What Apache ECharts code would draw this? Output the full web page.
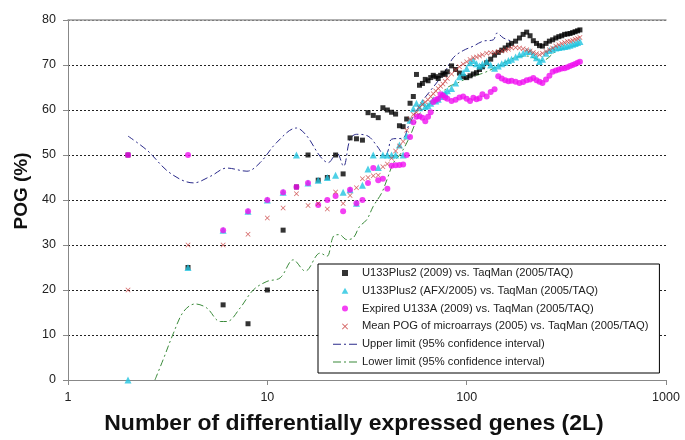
<!DOCTYPE html>
<html>
<head>
<meta charset="utf-8">
<script src="https://cdn.jsdelivr.net/npm/echarts@6/dist/echarts.min.js"></script>
<style>html,body{margin:0;padding:0;background:#fff;}#c{width:685px;height:440px;}</style>
</head>
<body>
<div id="c"></div>
<script>
// x values (number of differentially expressed genes, 2L)
const genes = [2,4,6,8,10,12,14,16,18,20,
  22,24,26,28,30,32,34,36,38,40,
  42,44,46,48,50,52,54,56,58,60,
  62,64,66,68,70,72,74,76,78,80,
  84,88,92,96,100,104,108,112,116,120,
  126,132,138,144,150,156,162,168,176,184,
  192,200,208,216,224,232,240,250,260,270,
  280,290,300,310,320,330,340,350,360,370];

const plus2009 = [50,25,16.7,12.5,20,33.3,42.9,50,44.4,45,
  50,45.8,53.8,53.6,53.3,59.4,58.8,58.3,60.5,60,
  59.5,59.1,56.5,56.3,58,61.5,63,67.9,65.5,65.9,
  66.8,66.5,67.2,67.7,67.4,67,67.7,68.2,67.9,68.5,
  69.8,69,68.2,67.4,67.2,67.6,68,68.3,69,69.6,
  70.5,71.3,72.2,72.8,73.3,73.8,74.4,74.8,75.3,76,
  76.8,77.3,76.5,75.4,74.8,74.3,74.2,74.8,75.3,75.6,
  76,76.3,76.5,76.8,76.9,77,77.2,77.4,77.6,77.8];

const afx2005 = [0,25,33.3,37.5,40,41.7,50,43.8,44.4,45,
  45.5,41.7,42.3,39.3,43.3,46.9,50,47.2,50,50,
  50,50,52.2,50,54.2,57.7,60.3,61.5,60.5,61.7,
  60.8,61,61.5,62.3,62,62.4,63,63.5,63.8,64.3,
  64.8,66,67.4,68.3,69.2,70.5,71,70.3,69.8,70.2,
  70.8,70,69.3,69.8,70.3,70.6,71,71.3,71.8,72.3,
  72.6,73,73,72.3,71.6,70.8,71.3,72.6,73.2,73.5,
  73.8,73.9,74,74.1,74.2,74.4,74.6,74.8,75,75.2];

const expired2009 = [50,50,33.3,37.5,40,41.7,42.9,43.8,38.9,40,
  40.9,37.5,42.3,39.3,40,43.8,47.1,44.4,44.7,42.5,
  47.6,47.7,47.8,47.9,50,54,57.3,58.5,58.6,58.3,
  57.5,58.5,59.5,61.8,62.3,62.5,63.5,63.2,62.8,62.5,
  62,62.3,62.8,63,62.5,62,62.7,62.4,62.6,63.5,
  63,64,64.6,67.5,67,66.6,66.4,66.5,66.3,66,
  66.2,66.6,66.8,67.1,66.6,66.3,66,66.8,67.6,68.5,
  68.8,69,69.2,69.3,69.5,69.8,70,70.2,70.5,70.7];

const meanPOG = [20,30,30,32.4,36,38.2,41.4,38.8,39.2,38,
  41.8,39.2,41,42.7,44.7,45,45.4,45.5,47.4,48,
  49.3,50.9,52,53,55.5,58,59,59.5,60.5,61.2,
  61.8,62.3,63,63.6,64.2,64.8,65.3,65.8,66.4,67,
  68,68.9,69.6,70.2,70.7,71.2,71.6,71.8,72,72.3,
  72.6,72.7,72.8,73,73.1,73.3,73.5,73.8,73.9,73.8,
  73.6,73.4,73.1,72.8,72.5,72.3,72.6,73,73.4,73.8,
  74.2,74.5,74.8,75,75.2,75.3,75.5,75.7,75.9,76.1];

const upperX = [2,2.5,3.25,4.26,5.2,6.26,7.9,9.2,11.1,14,15.8,18.4,20.2,22.3,24.1,26,28,32,35.5,39,40.5,42,48,51,54,60,65,72,79,86,96,108,121,136,142,153,171];
const upperY = [54.2,51,46,43.8,45.3,47.1,46.4,48.3,52.7,56,54.2,49.7,48.3,50.5,47.5,53.5,54.6,54.2,52,49.7,51.2,53.5,53.8,56.4,58.6,62,64,66.5,69,71.7,73.2,74.2,75.3,75.6,77.1,76,75.2];

const lowerX = [2.73,3.0,3.38,3.8,4.34,4.97,5.8,6.27,7.3,8.5,9.95,11.6,13.5,15.5,18.4,19.9,21.5,23,25,27,29,31.5,34,37.5,39.8,43,47,52,54,57,60,66,73,80,90,100,121,140,171,200,240,285,370];
const lowerY = [0,4.5,10.4,15.2,16.9,16,13,13,16,20,21.9,22.7,26.7,24.2,28.2,27.5,32,32.3,31.2,31.6,34.1,35.6,38.6,41.6,44.5,48.3,50.5,54.2,56,58.5,60,61.5,63,65,66,67,68.2,69.5,71.5,72,71,73.2,74.5];

const names = [
  'U133Plus2 (2009) vs. TaqMan (2005/TAQ)',
  'U133Plus2 (AFX/2005) vs. TaqMan (2005/TAQ)',
  'Expired U133A (2009) vs. TaqMan (2005/TAQ)',
  'Mean POG of microarrays (2005) vs. TaqMan (2005/TAQ)',
  'Upper limit (95% confidence interval)',
  'Lower limit (95% confidence interval)'
];
const yTitle = 'POG (%)';
const xTitle = 'Number of differentially expressed genes (2L)';

const FONT = '"Liberation Sans", Arial, sans-serif';
const pairs = (xs, ys) => xs.map((x, i) => [x, ys[i]]).filter(p => p[1] != null);
const crossPath = 'path://M0,1 L1,0 L5,4 L9,0 L10,1 L6,5 L10,9 L9,10 L5,6 L1,10 L0,9 L4,5 Z';
const squarePath = 'path://M0,0 H10 V10 H0 Z';
const triPath = 'path://M5,0 L10,9 L0,9 Z';
const dashDotPath = 'path://M0,0 H8 V1.1 H0 Z M11,0 H13 V1.1 H11 Z M16,0 H24 V1.1 H16 Z';

const chart = echarts.init(document.getElementById('c'), null, {renderer: 'canvas'});
chart.setOption({
  animation: false,
  backgroundColor: '#fff',
  grid: {left: 68, right: 19, top: 20, bottom: 60},
  legend: {
    orient: 'vertical', left: 318, top: 264,
    itemWidth: 24, itemHeight: 6, itemGap: 3.8,
    padding: [2, 11, 4, 15],
    borderColor: '#000', borderWidth: 1, backgroundColor: '#fff',
    textStyle: {fontSize: 11.2, color: '#222', lineHeight: 14, fontFamily: FONT},
    data: [
      {name: names[0], icon: squarePath},
      {name: names[1], icon: triPath},
      {name: names[2], icon: 'circle'},
      {name: names[3], icon: crossPath},
      {name: names[4], icon: dashDotPath},
      {name: names[5], icon: dashDotPath}
    ]
  },
  graphic: [
    {type: 'text', x: 22, y: 191, rotation: Math.PI / 2, z: 10,
      style: {text: yTitle, font: 'bold 19px ' + FONT, fill: '#111', textAlign: 'center', textVerticalAlign: 'middle'}},
    {type: 'text', x: 354, y: 424, scaleX: 1.045, z: 10,
      style: {text: xTitle, font: 'bold 22px ' + FONT, fill: '#111', textAlign: 'center', textVerticalAlign: 'middle'}}
  ],
  xAxis: [{
    type: 'log', logBase: 10, min: 1, max: 1000,
    axisLine: {lineStyle: {color: '#888'}},
    axisTick: {show: true, length: 5, lineStyle: {color: '#888'}},
    minorTick: {show: false},
    axisLabel: {color: '#222', fontSize: 12.5, margin: 11, fontFamily: FONT,
      formatter: v => String(Math.round(v))},
    splitLine: {show: false}
  }, {
    type: 'log', logBase: 10, min: 1, max: 1000, position: 'top',
    axisLine: {show: true, lineStyle: {color: '#999', width: 1.5}},
    axisTick: {show: false}, axisLabel: {show: false}, splitLine: {show: false}
  }],
  yAxis: {
    type: 'value', min: 0, max: 80, interval: 10,
    axisLine: {show: true, lineStyle: {color: '#888'}},
    axisTick: {show: true, length: 5, lineStyle: {color: '#888'}},
    axisLabel: {color: '#222', fontSize: 12.5, margin: 12, fontFamily: FONT},
    splitLine: {show: true, lineStyle: {color: '#222', width: 1, type: [2, 2]}}
  },
  series: [
    {name: names[4], type: 'line', symbol: 'none', smooth: 0.35, z: 1,
      data: pairs(upperX, upperY),
      lineStyle: {color: '#2a2a8a', width: 1, type: [7, 3, 2, 3]}, itemStyle: {color: '#2a2a8a'}},
    {name: names[5], type: 'line', symbol: 'none', smooth: 0.35, z: 1,
      data: pairs(lowerX, lowerY),
      lineStyle: {color: '#3a8a3a', width: 1, type: [7, 3, 2, 3]}, itemStyle: {color: '#3a8a3a'}},
    {name: names[0], type: 'scatter', symbol: 'rect', symbolSize: 5, z: 2,
      data: pairs(genes, plus2009), itemStyle: {color: '#000'}},
    {name: names[1], type: 'scatter', symbol: 'triangle', symbolSize: 7, z: 3,
      data: pairs(genes, afx2005), itemStyle: {color: '#22c4e0'}},
    {name: names[2], type: 'scatter', symbol: 'circle', symbolSize: 6, z: 4,
      data: pairs(genes, expired2009), itemStyle: {color: '#f010f0'}},
    {name: names[3], type: 'scatter', symbol: crossPath, symbolSize: 5, z: 5,
      data: pairs(genes, meanPOG), itemStyle: {color: '#c83a3a'}}
  ]
});
</script>
</body>
</html>
